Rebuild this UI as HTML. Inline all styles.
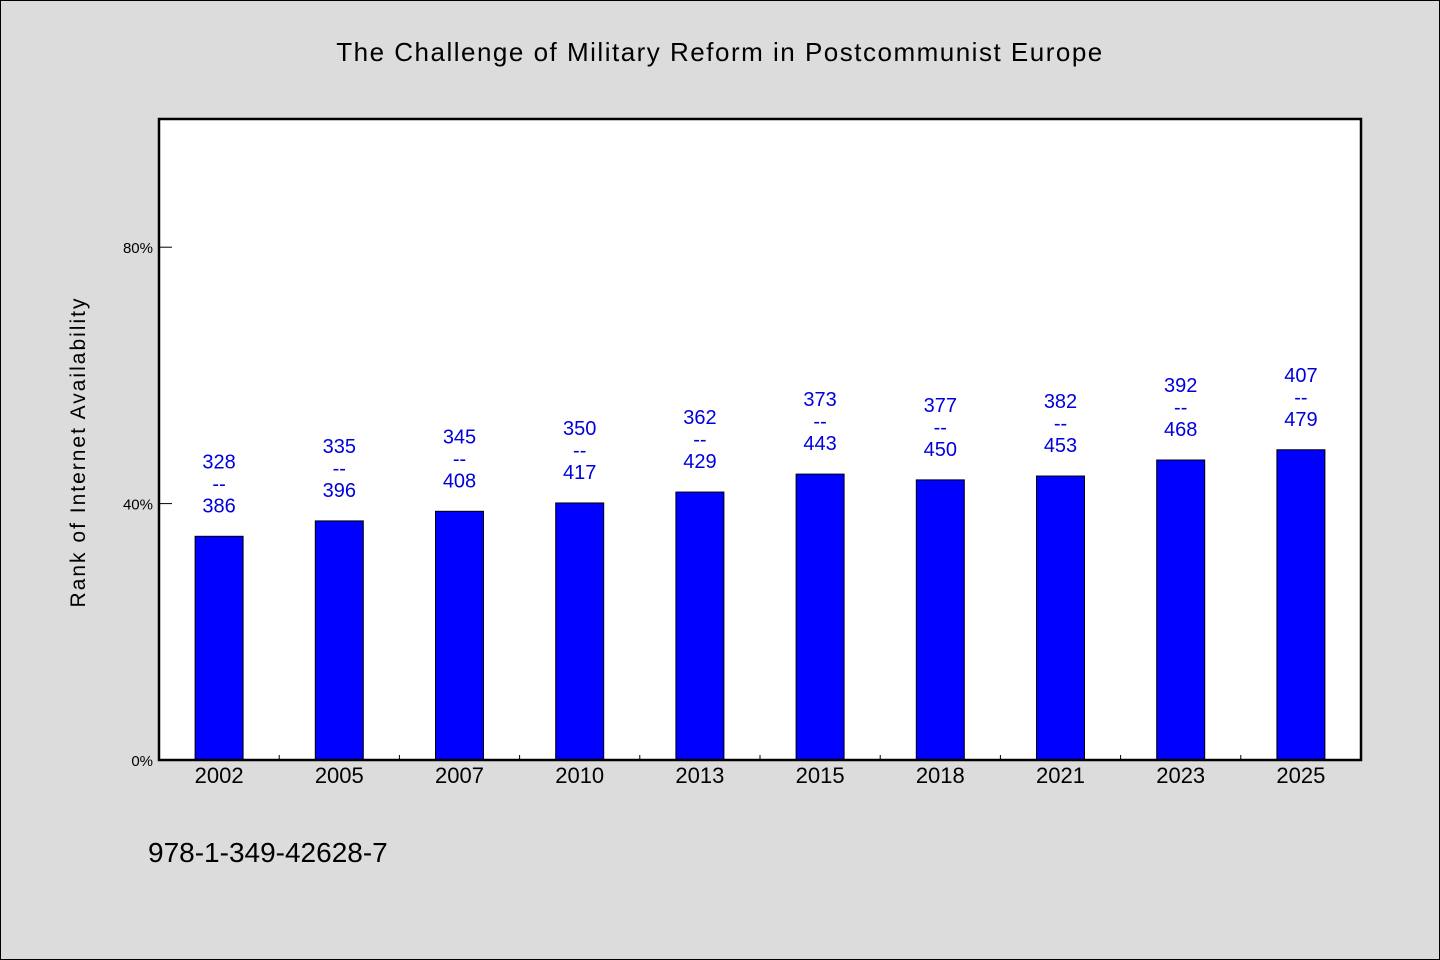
<!DOCTYPE html>
<html><head><meta charset="utf-8"><style>
html,body{margin:0;padding:0;}
body{width:1440px;height:960px;background:#dcdcdc;overflow:hidden;}
svg{display:block;font-family:"WenQuanYi Zen Hei","Liberation Sans",sans-serif;}
</style></head><body>
<svg id="chart" width="1440" height="960">
<rect x="0.5" y="0.5" width="1439" height="959" fill="#dcdcdc" stroke="#000" stroke-width="1"/>
<text x="720" y="61" text-anchor="middle" font-size="26" letter-spacing="1.5">The Challenge of Military Reform in Postcommunist Europe</text>
<rect x="159" y="119" width="1202" height="641" fill="#fff"/>
<g id="bars"></g>
<g id="axes"></g>
<rect x="159" y="119" width="1202" height="641" fill="none" stroke="#000" stroke-width="2.5"/>
<text transform="translate(85,452) rotate(-90)" text-anchor="middle" font-size="21" letter-spacing="2">Rank of Internet Availability</text>
<text x="148" y="862" font-size="28">978-1-349-42628-7</text>
</svg>
<script>
const categories=["2002","2005","2007","2010","2013","2015","2018","2021","2023","2025"];
const barValues=[34.9,37.3,38.8,40.1,41.8,44.6,43.7,44.3,46.8,48.4];
const topLabels=["328","335","345","350","362","373","377","382","392","407"];
const bottomLabels=["386","396","408","417","429","443","450","453","468","479"];
const yTicks=[0,40,80];
const NS="http://www.w3.org/2000/svg";
const L=159,R=1361,T=119,B=760,YMAX=100;
const step=(R-L)/categories.length;
const xc=i=>L+step*(i+0.5);
const y=v=>B-(B-T)*v/YMAX;
function mk(tag,attrs,parent,txt){const e=document.createElementNS(NS,tag);for(const k in attrs)e.setAttribute(k,attrs[k]);if(txt!==undefined)e.textContent=txt;parent.appendChild(e);return e;}
const gb=document.getElementById('bars'),ga=document.getElementById('axes');
categories.forEach((c,i)=>{
  const top=y(barValues[i]);
  const r=mk('rect',{x:xc(i)-24,y:top,width:48,height:B-top,fill:'#0000ff',stroke:'#000','stroke-width':1},gb);
  
  
  const t=mk('text',{x:xc(i),'text-anchor':'middle','font-size':20,fill:'#0000dd'},gb);
  
  
  mk('tspan',{x:xc(i),y:top-68},t,topLabels[i]);
  mk('tspan',{x:xc(i),y:top-46},t,'--');
  mk('tspan',{x:xc(i),y:top-24},t,bottomLabels[i]);
  const xl=mk('text',{x:xc(i),y:783,'text-anchor':'middle','font-size':22},ga,c);
  
  
  if(i>0){
    const tk=mk('line',{x1:L+step*i,x2:L+step*i,y1:B,y2:B-5,stroke:'#000','stroke-width':1},ga);
    
    
  }
});
yTicks.forEach(v=>{
  const tk=mk('line',{x1:L,x2:L+13,y1:y(v),y2:y(v),stroke:'#000','stroke-width':1},ga);
  
  
  const tl=mk('text',{x:153,y:y(v)+6,'text-anchor':'end','font-size':15},ga,v+'%');
  
  
});
</script>
</body></html>
